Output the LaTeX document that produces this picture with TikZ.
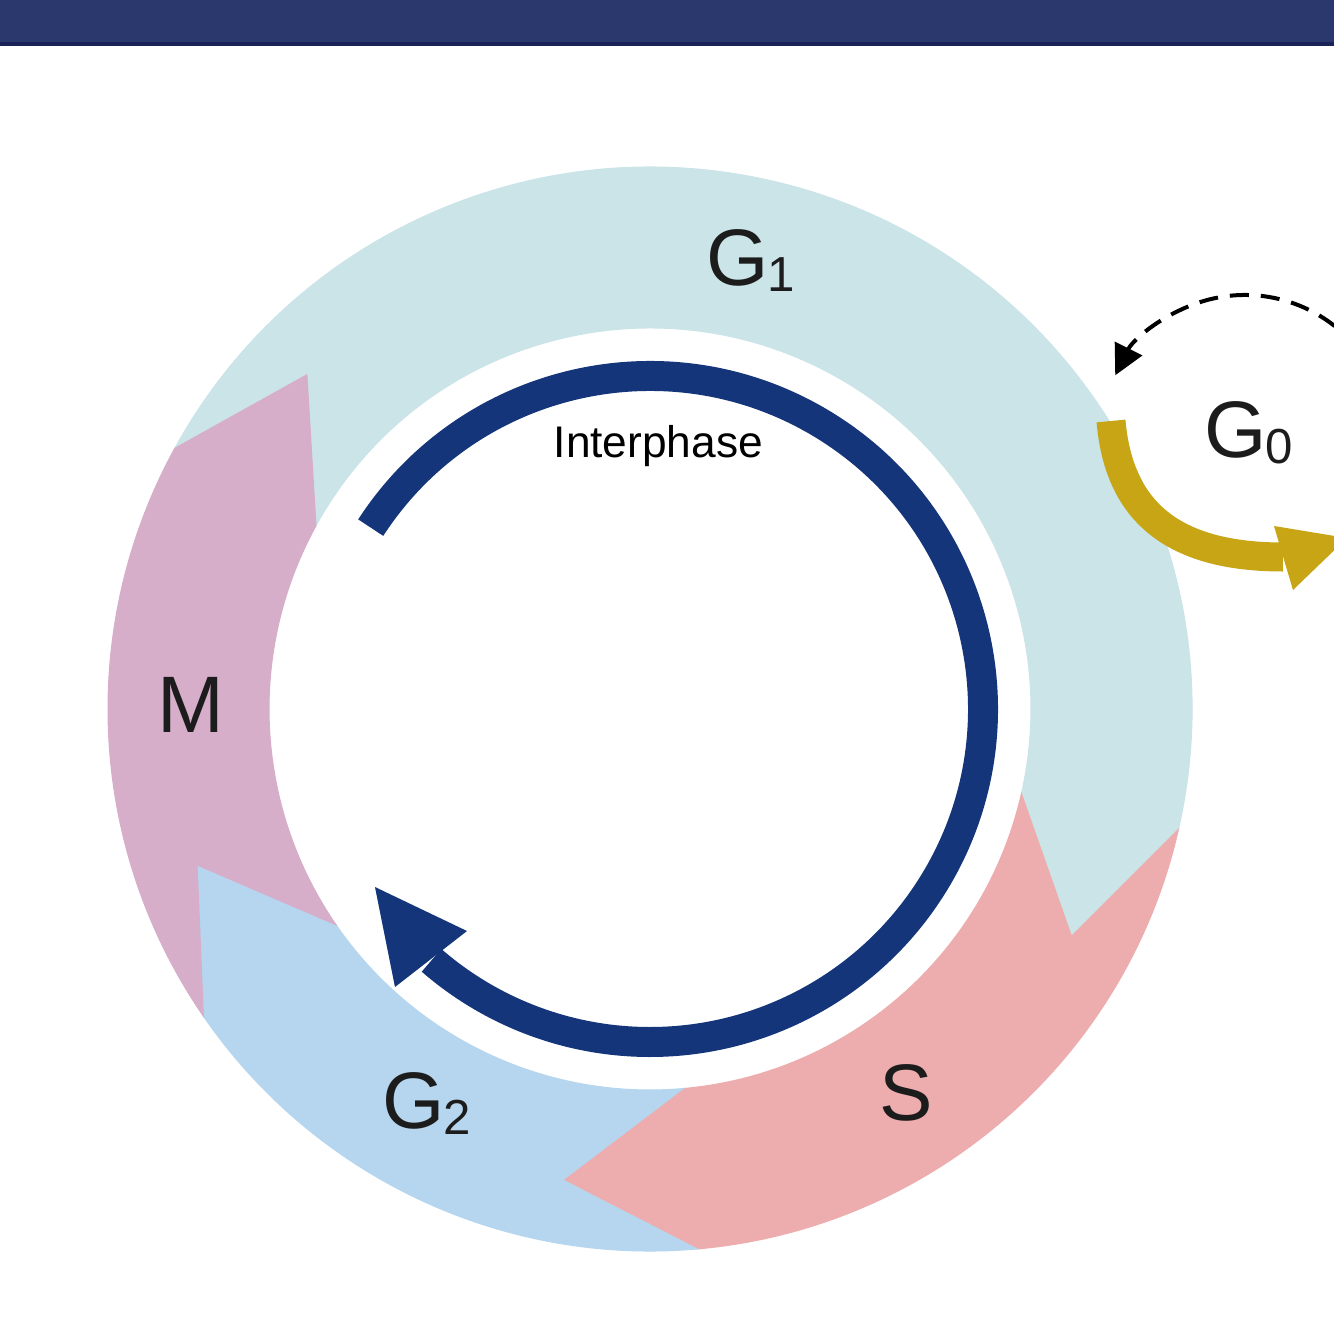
\documentclass[tikz,border=0pt]{standalone}
\usepackage{fontspec}
\setmainfont{Liberation Sans}
\usetikzlibrary{arrows.meta}
\definecolor{barblue}{HTML}{2B386E}
\definecolor{bardark}{HTML}{1A2358}
\definecolor{gone}{HTML}{CAE4E8}
\definecolor{mcol}{HTML}{D7AEC9}
\definecolor{gtwo}{HTML}{B5D6EE}
\definecolor{scol}{HTML}{EDADAE}
\definecolor{arrowblue}{HTML}{15357A}
\definecolor{gold}{HTML}{C7A514}
\definecolor{txt}{HTML}{1C1C1C}
\newcommand\ringseg[3]{\filldraw[fill=#1,draw=#1,line width=0.3pt] (#2:542) -- ({#2-15.5}:479) -- (#2:381) arc[start angle=#2, end angle=#3, radius=381] -- ({#3-15.5}:479) -- (#3:542) arc[start angle=#3, end angle=#2, radius=542] -- cycle;}
\newcommand\subtx[1]{\kern-0.2mm\raisebox{-0.6mm}{\fontsize{14}{16}\selectfont #1}}
\tikzset{
  biglab/.style={font=\fontsize{22.8}{27}\selectfont, text=txt, inner sep=0pt, anchor=base west},
  smalllab/.style={font=\fontsize{12.6}{15}\selectfont, text=black, inner sep=0pt, anchor=base west}
}
\begin{document}
\begin{tikzpicture}[x=0.1mm,y=0.1mm]
\fill[white] (-650,-625) rectangle (684,709);
\useasboundingbox (-650,-625) rectangle (684,709);
\clip (-650,-625) rectangle (684,709);
% top bar
\fill[barblue] (-650,663) rectangle (684,709);
\fill[bardark] (-650,663) rectangle (684,667);
% ring segments
\ringseg{gone}{151.25}{-12.85}
\ringseg{scol}{-12.85}{-85}
\ringseg{gtwo}{-85}{-145.5}
\ringseg{mcol}{-145.5}{-208.75}
% interphase arrow
\draw[line width=3mm, arrowblue] (147:333) arc[start angle=147, end angle=-131, radius=333];
\fill[arrowblue] (-275,-178) -- (-183,-222) -- (-255,-278) -- cycle;
% G0 dashed arrow
\draw[line width=0.4mm, dash pattern=on 1.9mm off 1.2mm, -{Triangle[length=3mm,width=3mm]}] (595,269) ++(15:145) arc[start angle=15, end angle=153.5, radius=145];
% gold arrow
\draw[line width=2.9mm, gold] (461,288) .. controls (468,209) and (510,152) .. (633,152);
\fill[gold] (624,183) -- (697,171) -- (643,119) -- cycle;
% labels
\node[biglab] (g1) at (56,424) {G\subtx{1}};
\node[biglab] (g0) at (554,252) {G\subtx{0}};
\node[biglab] (m) at (-493,-23) {M};
\node[biglab] (g2) at (-268,-419) {G\subtx{2}};
\node[biglab] (s) at (229,-411) {S};
\node[smalllab] (inter) at (-97,252) {Interphase};
\end{tikzpicture}
\end{document}
